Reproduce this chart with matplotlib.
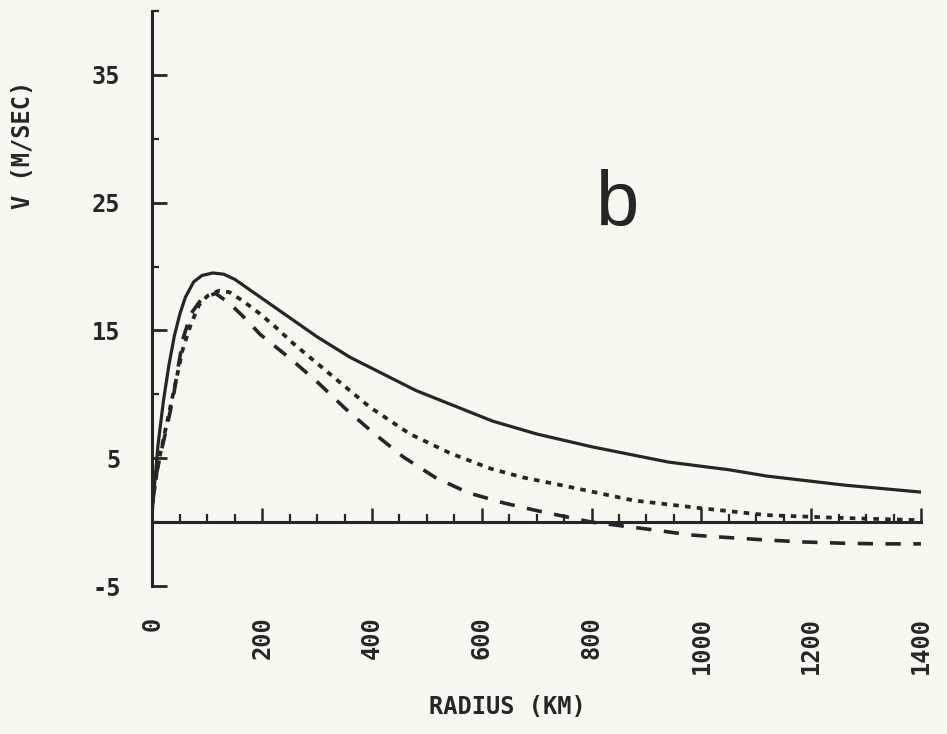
import matplotlib.pyplot as plt
from matplotlib.ticker import FixedLocator

plt.rcParams['lines.scale_dashes'] = False

# radius (km) and tangential wind V (m/s)
r_solid = [0, 10, 20, 30, 40, 50, 60, 75, 90, 110, 130, 150, 180, 210, 250, 300,
           360, 420, 480, 550, 620, 700, 800, 940, 1050, 1120, 1260, 1400]
v_solid = [1.0, 6.0, 9.5, 12.3, 14.6, 16.3, 17.6, 18.8, 19.3, 19.5, 19.4, 19.0, 18.1,
           17.2, 16.0, 14.5, 12.9, 11.6, 10.3, 9.1, 7.9, 6.9, 5.9, 4.7, 4.1, 3.6, 2.9, 2.35]

r_dotted = [0, 10, 20, 30, 40, 55, 70, 85, 100, 120, 140, 165, 196, 226, 256, 323,
            396, 469, 542, 615, 675, 755, 876, 997, 1119, 1240, 1320, 1400]
v_dotted = [1.5, 4.5, 6.5, 8.5, 10.5, 13.5, 15.5, 17.0, 17.7, 18.1, 18.0, 17.3, 16.3,
            15.2, 14.0, 11.6, 9.0, 6.9, 5.4, 4.2, 3.5, 2.8, 1.7, 1.1, 0.55, 0.35, 0.25, 0.15]

r_dashed = [0, 5, 15, 26, 38, 47, 56, 70, 90, 115, 141, 170, 196, 251, 302, 351, 402,
            457, 515, 575, 640, 700, 800, 912, 979, 1046, 1119, 1185, 1258, 1325, 1400]
v_dashed = [1.5, 3.3, 5.4, 7.4, 9.8, 12.2, 14.4, 16.3, 17.5, 17.9, 17.1, 15.9, 14.7,
            12.8, 10.9, 8.9, 7.0, 5.1, 3.5, 2.3, 1.5, 0.9, 0.0, -0.6, -1.0, -1.2, -1.4,
            -1.55, -1.65, -1.7, -1.7]

x_major = [0, 200, 400, 600, 800, 1000, 1200, 1400]
x_minor = [50, 100, 150, 250, 300, 350, 450, 500, 550, 650, 700, 750, 850, 900, 950,
           1050, 1100, 1150, 1250, 1300, 1350]
y_major = [-5, 5, 15, 25, 35]
y_minor = [0, 10, 20, 30, 40]

ink = '#262626'
bg = '#f8f8f0'

fig = plt.figure(figsize=(9.47, 7.34), dpi=100, facecolor=bg)
ax = fig.add_axes([0.161, 0.2016, 0.8115, 0.7834], facecolor=bg)

ax.plot(r_solid, v_solid, color=ink, lw=2.3, solid_capstyle='round')
ax.plot(r_dotted, v_dotted, color=ink, lw=2.7, dashes=(4.0, 4.5))
ax.plot(r_dashed, v_dashed, color=ink, lw=2.6, dashes=(11.0, 9.0))

ax.set_xlim(0, 1400)
ax.set_ylim(-5, 40)

# axis lines: x axis drawn at V = 0, left axis only
for s in ['top', 'right']:
    ax.spines[s].set_visible(False)
ax.spines['bottom'].set_position(('data', 0))
ax.spines['bottom'].set_linewidth(2.2)
ax.spines['left'].set_linewidth(2.2)
ax.spines['bottom'].set_color(ink)
ax.spines['left'].set_color(ink)

ax.xaxis.set_major_locator(FixedLocator(x_major))
ax.xaxis.set_minor_locator(FixedLocator(x_minor))
ax.yaxis.set_major_locator(FixedLocator(y_major))
ax.yaxis.set_minor_locator(FixedLocator(y_minor))
ax.set_xticklabels([str(v) for v in x_major])
ax.set_yticklabels([str(v) for v in y_major])

font = 'DejaVu Sans Mono'
ax.tick_params(axis='x', which='major', direction='in', length=10, width=1.8,
               color=ink, pad=68, labelrotation=90, labelsize=17, labelcolor=ink)
ax.tick_params(axis='x', which='minor', direction='in', length=5.5, width=1.6, color=ink)
ax.tick_params(axis='y', which='major', direction='in', length=11, width=2.0,
               color=ink, pad=23, labelsize=17, labelcolor=ink)
ax.tick_params(axis='y', which='minor', direction='in', length=5, width=1.6, color=ink)
for lab in ax.get_xticklabels() + ax.get_yticklabels():
    lab.set_fontfamily(font)
    lab.set_fontweight('semibold')

ax.text(848, 23.2, 'b', ha='center', va='baseline', fontsize=56,
        family='Liberation Sans', color=ink)

fig.text(507 / 947, 1 - 707 / 734, 'RADIUS (KM)', ha='center', va='center',
         fontsize=17, family=font, weight='semibold', color=ink)
fig.text(23 / 947, 1 - 145 / 734, 'V (M/SEC)', ha='center', va='center',
         rotation=90, fontsize=17, family=font, weight='semibold', color=ink)

fig.savefig('out.png', dpi=100, facecolor=bg)
